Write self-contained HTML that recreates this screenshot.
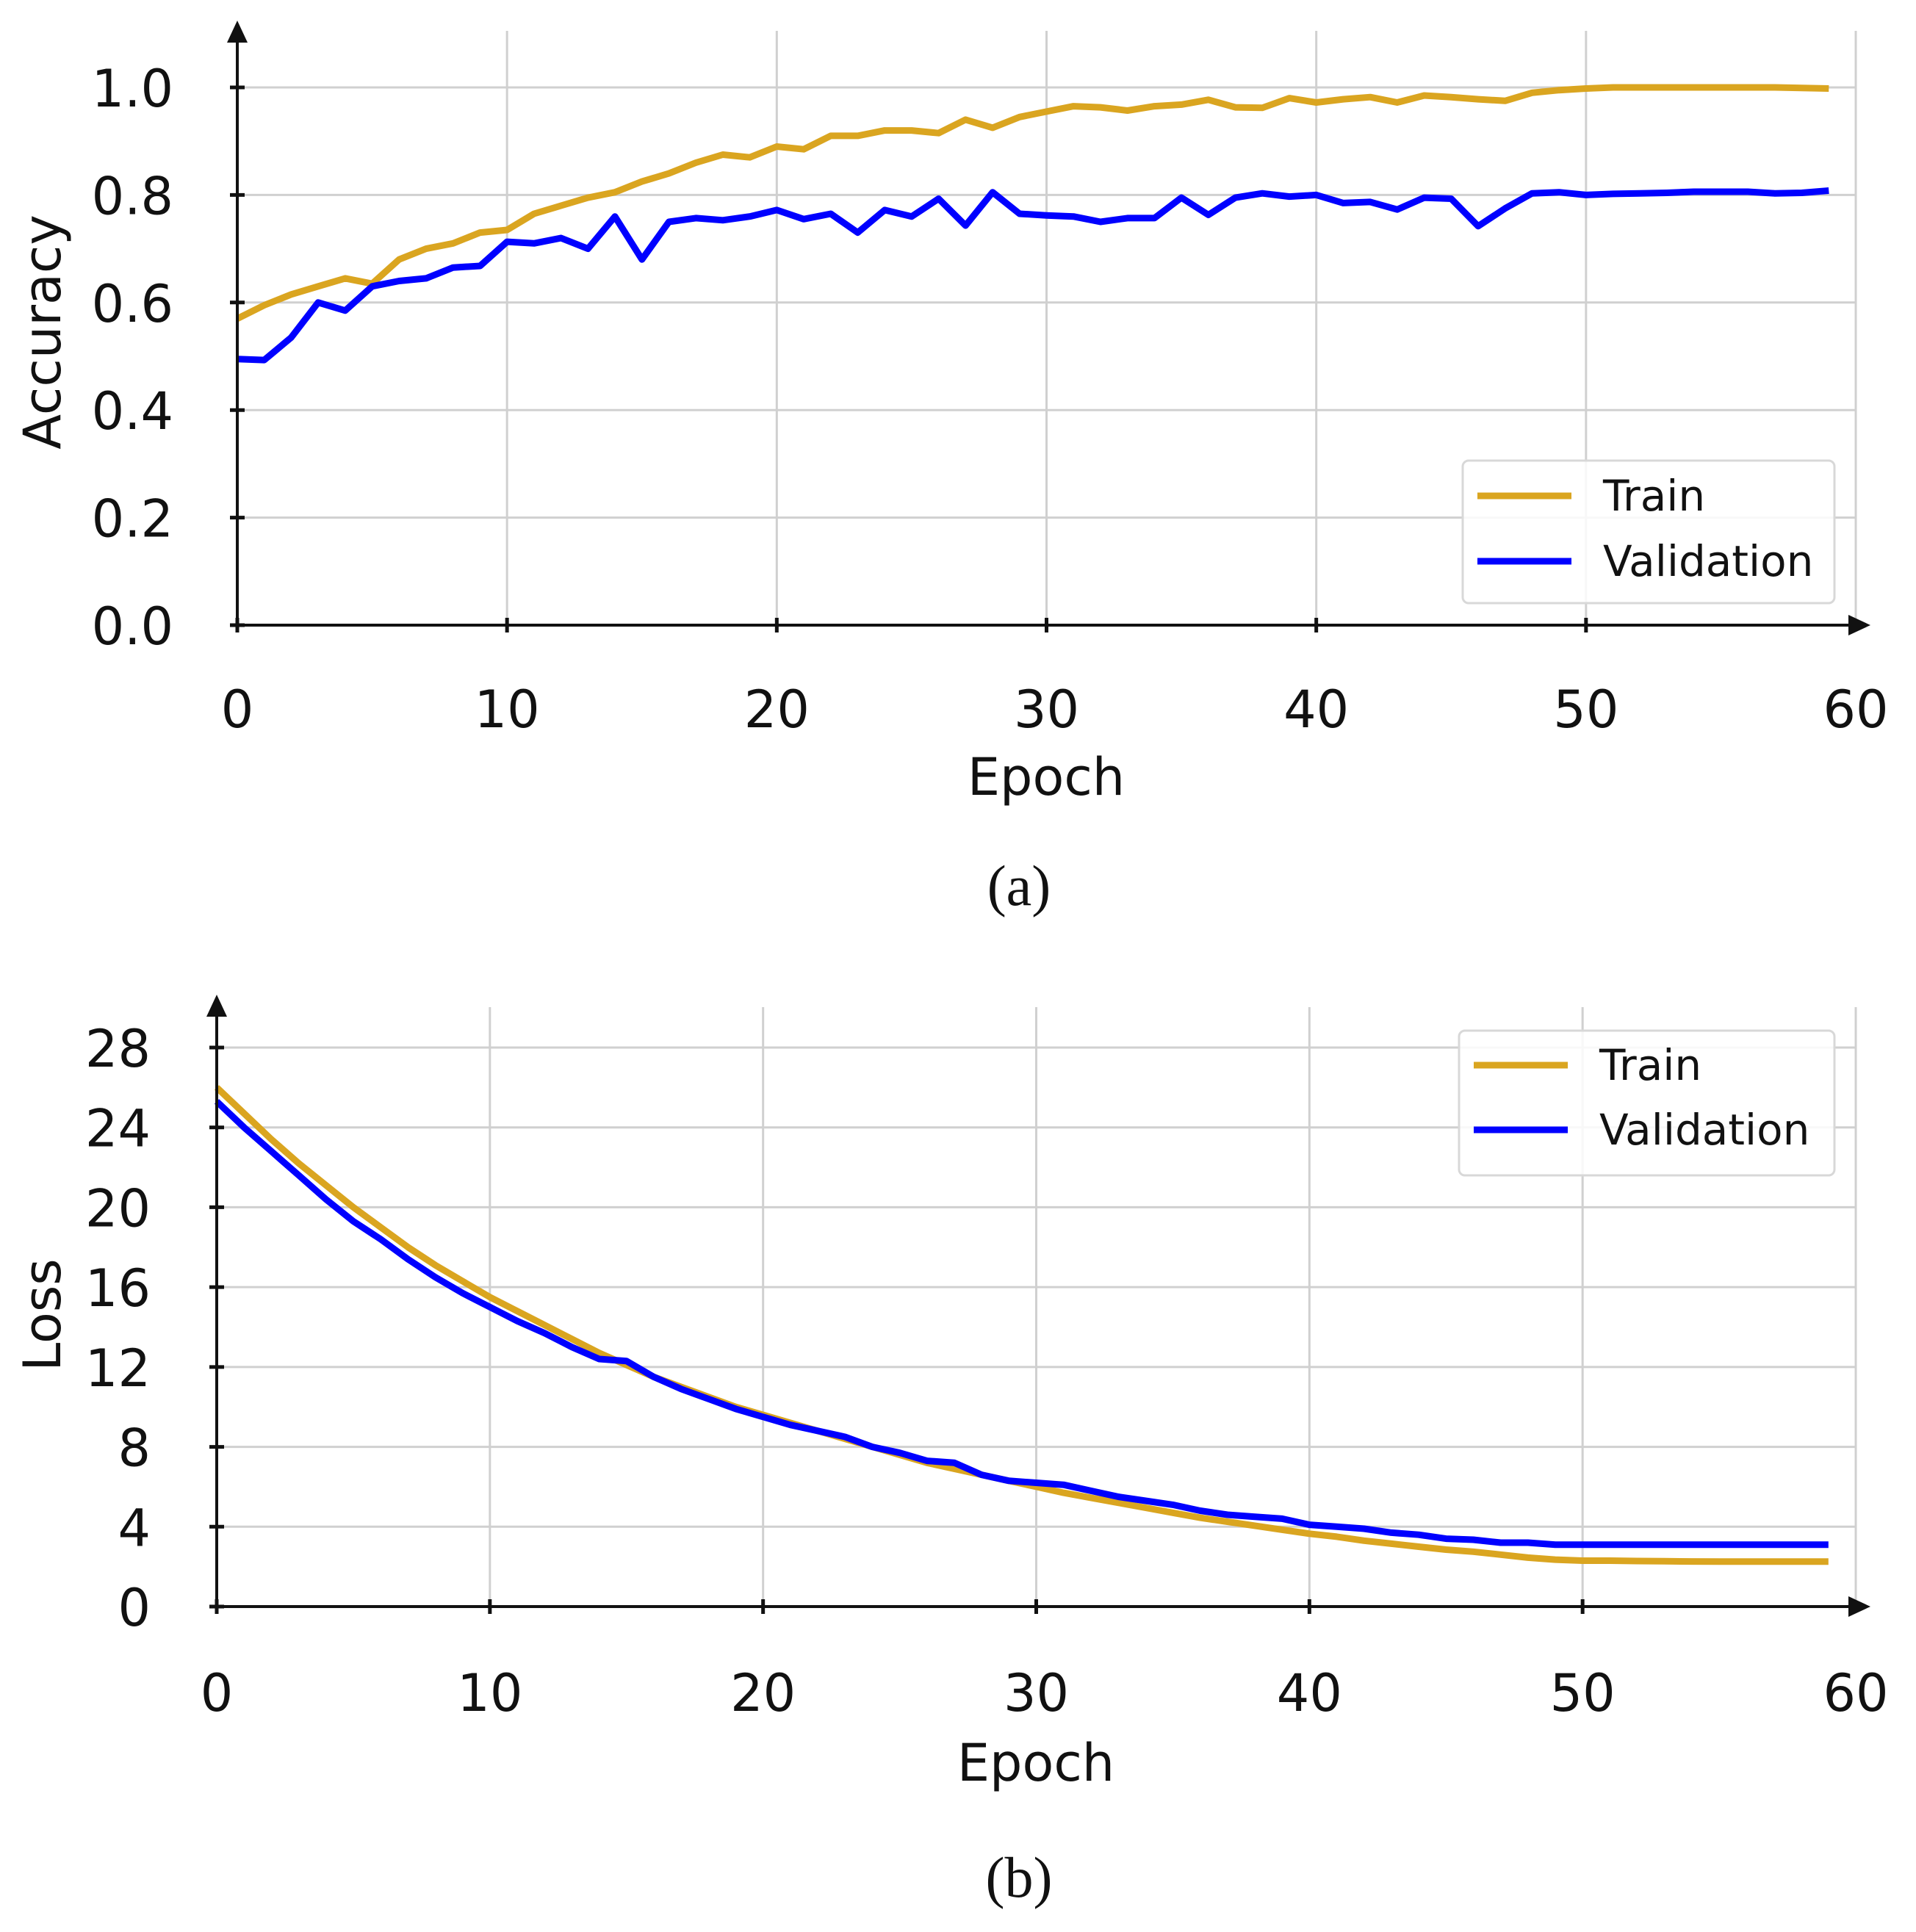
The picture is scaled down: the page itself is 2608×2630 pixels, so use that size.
<!DOCTYPE html>
<html><head><meta charset="utf-8"><style>
html,body{margin:0;padding:0;background:#fff;}
svg{display:block;}
text{font-family:"DejaVu Sans","Liberation Sans",sans-serif;fill:#111;}
.cap{font-family:"Liberation Serif",serif;}
</style></head><body>
<svg id="fig" width="2608" height="2630" viewBox="0 0 2608 2630" xmlns="http://www.w3.org/2000/svg">
<rect width="2608" height="2630" fill="#fff"/>
<g id="chartA"></g>
<g id="chartB"></g>
<text class="cap" x="1387" y="1232" font-size="78" text-anchor="middle">(a)</text>
<text class="cap" x="1387" y="2582" font-size="78" text-anchor="middle">(b)</text>
</svg>
<script>
const accTrain=[0.57,0.595,0.615,0.63,0.645,0.635,0.68,0.70,0.71,0.73,0.735,0.765,0.78,0.795,0.805,0.825,0.84,0.86,0.875,0.87,0.89,0.885,0.91,0.91,0.92,0.92,0.915,0.94,0.925,0.945,0.955,0.965,0.963,0.957,0.965,0.968,0.977,0.963,0.962,0.98,0.972,0.978,0.982,0.972,0.985,0.982,0.978,0.975,0.99,0.995,0.998,1.0,1.0,1.0,1.0,1.0,1.0,1.0,0.999,0.998];
const accVal=[0.495,0.493,0.535,0.60,0.585,0.63,0.64,0.645,0.665,0.668,0.713,0.71,0.72,0.70,0.76,0.68,0.75,0.757,0.753,0.76,0.772,0.755,0.765,0.73,0.772,0.76,0.793,0.743,0.805,0.765,0.762,0.76,0.75,0.757,0.757,0.795,0.763,0.795,0.803,0.797,0.80,0.785,0.787,0.773,0.795,0.793,0.742,0.775,0.803,0.805,0.80,0.802,0.803,0.804,0.806,0.806,0.806,0.803,0.804,0.808];
const lossTrain=[26.0,24.7,23.4,22.2,21.1,20.0,19.0,18.0,17.1,16.3,15.5,14.8,14.1,13.4,12.7,12.1,11.5,11.0,10.5,10.0,9.6,9.2,8.8,8.4,8.0,7.6,7.2,6.9,6.6,6.3,6.0,5.7,5.45,5.2,4.95,4.7,4.45,4.25,4.05,3.85,3.65,3.5,3.3,3.15,3.0,2.85,2.75,2.6,2.45,2.35,2.3,2.3,2.28,2.27,2.26,2.25,2.25,2.25,2.25,2.25];
const lossVal=[25.3,24.0,22.8,21.6,20.4,19.3,18.4,17.4,16.5,15.7,15.0,14.3,13.7,13.0,12.4,12.3,11.5,10.9,10.4,9.9,9.5,9.1,8.8,8.5,8.0,7.7,7.3,7.2,6.6,6.3,6.2,6.1,5.8,5.5,5.3,5.1,4.8,4.6,4.5,4.4,4.1,4.0,3.9,3.7,3.6,3.4,3.35,3.2,3.2,3.1,3.1,3.1,3.1,3.1,3.1,3.1,3.1,3.1,3.1,3.1];
const xTicks=[0,10,20,30,40,50,60];
const accTicks=[0,0.2,0.4,0.6,0.8,1.0];
const accTickLabels=["0.0","0.2","0.4","0.6","0.8","1.0"];
const lossTicks=[0,4,8,12,16,20,24,28];
const lossTickLabels=["0","4","8","12","16","20","24","28"];
const NS="http://www.w3.org/2000/svg";
function mk(parent,tag,attrs,txt){const e=document.createElementNS(NS,tag);for(const k in attrs)e.setAttribute(k,attrs[k]);if(txt!==undefined)e.textContent=txt;parent.appendChild(e);return e;}
function drawChart(g,cfg){
  const xs=v=>cfg.x0+(v/60)*(cfg.x60-cfg.x0);
  const ys=v=>cfg.y0+(v-cfg.ymin)/(cfg.ymax-cfg.ymin)*(cfg.yTop-cfg.y0);
  xTicks.forEach(t=>{const l=mk(g,'line',{x1:xs(t),x2:xs(t),y1:cfg.gridTop,y2:cfg.y0,stroke:'#d0d0d0','stroke-width':3});
    
    });
  cfg.yt.forEach(t=>{const l=mk(g,'line',{x1:cfg.x0,x2:xs(60),y1:ys(t),y2:ys(t),stroke:'#d0d0d0','stroke-width':3});
    
    });
  [[cfg.train,'#DAA520','train-line'],[cfg.val,'#0000FF','validation-line']].forEach(s=>{
    const p=s[0].map((v,i)=>(i?'L':'M')+xs(i).toFixed(1)+' '+ys(v).toFixed(1)).join(' ');
    const path=mk(g,'path',{d:p,fill:'none',stroke:s[1],'stroke-width':9,'stroke-linejoin':'round'});
    
    
  });
  const ax=mk(g,'line',{x1:cfg.x0,x2:cfg.arrowX-20,y1:cfg.y0,y2:cfg.y0,stroke:'#111','stroke-width':4});
  
  
  const ay=mk(g,'line',{x1:cfg.x0,x2:cfg.x0,y1:cfg.y0,y2:cfg.arrowY+20,stroke:'#111','stroke-width':4});
  
  
  const a1=mk(g,'polygon',{points:`${cfg.arrowX},${cfg.y0} ${cfg.arrowX-30},${cfg.y0-14} ${cfg.arrowX-30},${cfg.y0+14}`,fill:'#111'});
  
  
  const a2=mk(g,'polygon',{points:`${cfg.x0},${cfg.arrowY} ${cfg.x0-14},${cfg.arrowY+30} ${cfg.x0+14},${cfg.arrowY+30}`,fill:'#111'});
  
  
  xTicks.forEach(t=>{
    if(t<60){const tk=mk(g,'line',{x1:xs(t),x2:xs(t),y1:cfg.y0-10,y2:cfg.y0+10,stroke:'#111','stroke-width':5});
      
      }
    const tl=mk(g,'text',{x:xs(t),y:cfg.xLabY,'font-size':70,'text-anchor':'middle'},String(t));
    
    
  });
  cfg.yt.forEach((t,i)=>{
    const tk=mk(g,'line',{x1:cfg.x0-10,x2:cfg.x0+10,y1:ys(t),y2:ys(t),stroke:'#111','stroke-width':5});
    
    
    const tl=mk(g,'text',{x:cfg.yLabX,y:ys(t)+26,'font-size':70,'text-anchor':'end'},cfg.ytl[i]);
    
    
  });
  const xt=mk(g,'text',{x:cfg.xTitleX,y:cfg.xTitleY,'font-size':70,'text-anchor':'middle'},'Epoch');
  
  
  const yt=mk(g,'text',{x:0,y:0,'font-size':70,'text-anchor':'middle',transform:`translate(82,${cfg.yTitleY}) rotate(-90)`},cfg.yTitle);
  
  
  const L=cfg.leg;
  const lg=mk(g,'g',{});
  
  
  mk(lg,'rect',{x:L.x,y:L.y,width:L.w,height:L.h,rx:8,fill:'#fff','fill-opacity':0.85,stroke:'#d8d8d8','stroke-width':3});
  [['Train','#DAA520',L.y1,'legend-entry-train'],['Validation','#0000FF',L.y2,'legend-entry-validation']].forEach(e=>{
    const eg=mk(lg,'g',{});
    
    
    mk(eg,'line',{x1:L.x+20,x2:L.x+148,y1:e[2],y2:e[2],stroke:e[1],'stroke-width':9});
    mk(eg,'text',{x:L.x+191,y:e[2]+20,'font-size':58},e[0]);
  });
}
drawChart(document.getElementById('chartA'),{x0:323,x60:2526,y0:851,ymin:0,ymax:1,yTop:119,gridTop:42,arrowX:2546,arrowY:28,
  train:accTrain,val:accVal,yt:accTicks,ytl:accTickLabels,xLabY:990,yLabX:236,xTitleX:1424,xTitleY:1082,yTitleY:452,yTitle:'Accuracy',
  leg:{x:1991,y:627,w:506,h:194,y1:675,y2:764}});
drawChart(document.getElementById('chartB'),{x0:295,x60:2526,y0:2187,ymin:0,ymax:28,yTop:1426,gridTop:1371,arrowX:2546,arrowY:1354,
  train:lossTrain,val:lossVal,yt:lossTicks,ytl:lossTickLabels,xLabY:2329,yLabX:205,xTitleX:1410,xTitleY:2424,yTitleY:1790,yTitle:'Loss',
  leg:{x:1986,y:1403,w:511,h:197,y1:1450,y2:1538}});
</script>
</body></html>
